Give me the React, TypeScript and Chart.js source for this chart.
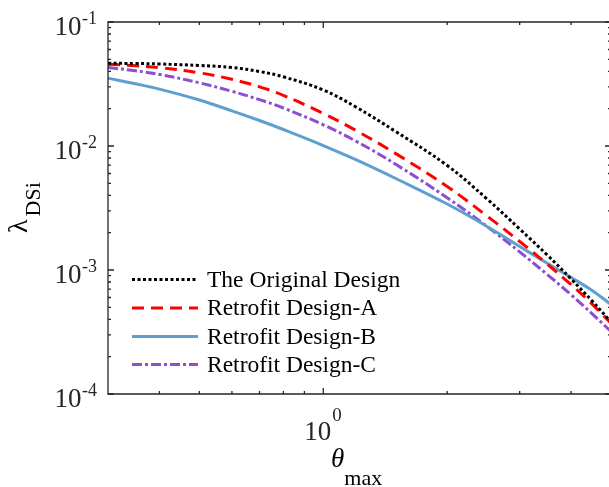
import React, { useEffect, useRef } from "react";
import { Chart, registerables } from "chart.js";

Chart.register(...registerables);

// ---- data ----
const thetaValues = [0.3, 0.35, 0.4, 0.5, 0.6, 0.7, 0.8, 1.0, 1.2, 1.5, 2.0, 2.5, 3.0, 3.5, 4.0, 4.5, 5.0];
const originalDesign = [0.04645, 0.04627, 0.04585, 0.04459, 0.04296, 0.03989, 0.03614, 0.02828, 0.02063, 0.01307, 0.006963, 0.003736, 0.002141, 0.001321, 0.000846, 0.000562, 0.000381];
const retrofitA = [0.04559, 0.04441, 0.04287, 0.03893, 0.0345, 0.03001, 0.02559, 0.01832, 0.01336, 0.008683, 0.004714, 0.002721, 0.001698, 0.001116, 0.000761, 0.000531, 0.000372];
const retrofitB = [0.03515, 0.03174, 0.02876, 0.0235, 0.01922, 0.01605, 0.01358, 0.01009, 0.007755, 0.005468, 0.003405, 0.002243, 0.001547, 0.001134, 0.00087, 0.000683, 0.000527];
const retrofitC = [0.04296, 0.04042, 0.03779, 0.03234, 0.02761, 0.02366, 0.02025, 0.01483, 0.01095, 0.007117, 0.003828, 0.002243, 0.0014, 0.00092, 0.000631, 0.000443, 0.000319];

const seriesLabels = ["The Original Design", "Retrofit Design-A", "Retrofit Design-B", "Retrofit Design-C"];

const xMajorTicks = [1];
const xTickBase = ["10"];
const xTickExponents = ["0"];
const xMinorTicks = [0.4, 0.5, 0.6, 0.7, 0.8, 0.9, 2, 3, 4];

const yMajorTicks = [1e-4, 1e-3, 1e-2, 1e-1];
const yTickBase = ["10", "10", "10", "10"];
const yTickExponents = ["-4", "-3", "-2", "-1"];
const yMinorMultipliers = [2, 3, 4, 5, 6, 7, 8, 9];
const yMinorDecades = [1e-4, 1e-3, 1e-2];

const xTitleMain = "θ";
const xTitleSub = "max";
const yTitleMain = "λ";
const yTitleSub = "DSi";

// ---- styles ----
const FONT = '"Liberation Serif", "Times New Roman", serif';
const AXIS_COLOR = "#262626";
const CANVAS_W = 625;
const CANVAS_H = 487;

const seriesStyles = [
  { color: "#000000", dash: [3, 2.5], width: 3 },
  { color: "#ff0000", dash: [12, 7], width: 3 },
  { color: "#5da0d0", dash: [], width: 3 },
  { color: "#8b4fcf", dash: [10, 3, 3, 3], width: 3 },
];
const seriesValues = [originalDesign, retrofitA, retrofitB, retrofitC];

const axesPlugin = {
  id: "matlabAxes",
  afterDatasetsDraw(chart: any) {
    const { ctx, chartArea: a, scales } = chart;
    const xs = scales.x;
    const ys = scales.y;
    ctx.save();

    // legend
    const legendRows = [279.5, 308, 336.5, 364.5];
    chart.data.datasets.forEach((ds: any, i: number) => {
      const yy = legendRows[i];
      ctx.save();
      ctx.strokeStyle = ds.borderColor;
      ctx.lineWidth = ds.borderWidth;
      ctx.setLineDash(ds.borderDash || []);
      ctx.beginPath();
      ctx.moveTo(132, yy);
      ctx.lineTo(198, yy);
      ctx.stroke();
      ctx.restore();
      ctx.fillStyle = "#000000";
      ctx.font = `23.5px ${FONT}`;
      ctx.textAlign = "left";
      ctx.textBaseline = "middle";
      ctx.fillText(ds.label, 207, yy + 1);
    });

    // frame
    ctx.strokeStyle = AXIS_COLOR;
    ctx.lineWidth = 1.3;
    ctx.setLineDash([]);
    ctx.beginPath();
    ctx.rect(a.left, a.top, a.right - a.left, a.bottom - a.top);
    ctx.stroke();

    // ticks
    ctx.beginPath();
    const xTick = (v: number, len: number) => {
      const px = xs.getPixelForValue(v);
      ctx.moveTo(px, a.bottom);
      ctx.lineTo(px, a.bottom - len);
      ctx.moveTo(px, a.top);
      ctx.lineTo(px, a.top + len);
    };
    const yTick = (v: number, len: number) => {
      const py = ys.getPixelForValue(v);
      ctx.moveTo(a.left, py);
      ctx.lineTo(a.left + len, py);
      ctx.moveTo(a.right, py);
      ctx.lineTo(a.right - len, py);
    };
    xMajorTicks.forEach((v) => xTick(v, 6));
    xMinorTicks.forEach((v) => xTick(v, 3));
    yMajorTicks.forEach((v) => yTick(v, 6));
    yMinorDecades.forEach((d) => yMinorMultipliers.forEach((m) => yTick(m * d, 3)));
    ctx.stroke();

    // y tick labels
    ctx.fillStyle = AXIS_COLOR;
    ctx.textBaseline = "alphabetic";
    yMajorTicks.forEach((v, i) => {
      const py = ys.getPixelForValue(v);
      ctx.font = `18px ${FONT}`;
      const ew = ctx.measureText(yTickExponents[i]).width;
      const right = 97;
      ctx.textAlign = "left";
      ctx.fillText(yTickExponents[i], right - ew, py + 2);
      ctx.font = `27px ${FONT}`;
      ctx.textAlign = "right";
      ctx.fillText(yTickBase[i], right - ew - 0.5, py + 13);
    });

    // x tick labels
    xMajorTicks.forEach((v, i) => {
      ctx.font = `27px ${FONT}`;
      ctx.textAlign = "left";
      const px = xs.getPixelForValue(v);
      const bw = ctx.measureText(xTickBase[i]).width;
      const start = px - bw + 8;
      ctx.fillText(xTickBase[i], start, 440);
      ctx.font = `19px ${FONT}`;
      ctx.fillText(xTickExponents[i], start + bw + 1, 421);
    });

    // x title
    ctx.fillStyle = "#000000";
    ctx.textAlign = "left";
    ctx.font = `italic 27px ${FONT}`;
    ctx.fillText(xTitleMain, 331, 467);
    const tw = ctx.measureText(xTitleMain).width;
    ctx.font = `22px ${FONT}`;
    ctx.fillText(xTitleSub, 331 + tw, 485);

    // y title
    ctx.save();
    ctx.translate(27, 233);
    ctx.rotate(-Math.PI / 2);
    ctx.font = `28px ${FONT}`;
    ctx.textAlign = "left";
    ctx.fillText(yTitleMain, 0, 0);
    const lw = ctx.measureText(yTitleMain).width;
    ctx.font = `22px ${FONT}`;
    ctx.fillText(yTitleSub, lw + 3, 13);
    ctx.restore();

    ctx.restore();
  },
};

export default function App() {
  const canvasRef = useRef<HTMLCanvasElement | null>(null);

  useEffect(() => {
    const canvas = canvasRef.current;
    if (!canvas) return;
    const datasets = seriesValues.map((vals, i) => ({
      label: seriesLabels[i],
      data: thetaValues.map((t, j) => ({ x: t, y: vals[j] })),
      borderColor: seriesStyles[i].color,
      backgroundColor: seriesStyles[i].color,
      borderWidth: seriesStyles[i].width,
      borderDash: seriesStyles[i].dash,
      borderCapStyle: "butt" as const,
      pointRadius: 0,
      fill: false,
      tension: 0.4,
    }));
    const chart = new Chart(canvas, {
      type: "line",
      data: { datasets },
      options: {
        responsive: false,
        animation: false,
        events: [],
        layout: { padding: { left: 108, right: CANVAS_W - 611, top: 22, bottom: CANVAS_H - 394 } },
        scales: {
          x: { type: "logarithmic", min: 0.3, max: 5, display: false },
          y: { type: "logarithmic", min: 1e-4, max: 1e-1, display: false },
        },
        plugins: { legend: { display: false }, tooltip: { enabled: false } },
      },
      plugins: [axesPlugin],
    });
    return () => chart.destroy();
  }, []);

  return (
    <div style={{ position: "fixed", left: 0, top: 0, width: 609, height: 487, overflow: "hidden", background: "#fff" }}>
      <canvas ref={canvasRef} width={CANVAS_W} height={CANVAS_H} style={{ display: "block" }} />
    </div>
  );
}
